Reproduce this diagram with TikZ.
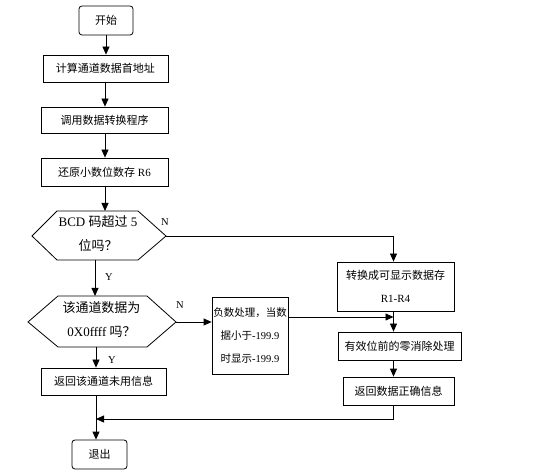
\documentclass[tikz,border=0pt]{standalone}
\usepackage{fontspec}
\setmainfont{Liberation Serif}
\newfontfamily\cjk{Noto Sans CJK SC}
\usetikzlibrary{arrows.meta}
\begin{document}
\begin{tikzpicture}[x=1pt,y=-1pt,
  every path/.style={line width=0.8pt},
  boxst/.style={draw,rectangle,inner sep=0pt,align=center,font=\fontsize{11}{23}\selectfont},
  termst/.style={boxst,rounded corners=3pt},
  hextext/.style={inner sep=0pt,align=center,font=\fontsize{13}{24}\selectfont},
  lbl/.style={inner sep=0pt,font=\fontsize{10.5}{12}\selectfont},
  arr/.style={-{Triangle[width=7pt,length=8pt]}}]
\useasboundingbox (0,0) rectangle (536,473);
% nodes
\node[termst,minimum width=54pt,minimum height=29pt] (start) at (106,20.5) {\cjk 开始};
\node[boxst,minimum width=125pt,minimum height=27pt] (b1) at (105.5,68.5) {\cjk 计算通道数据首地址};
\node[boxst,minimum width=127pt,minimum height=26pt] (b2) at (104.5,120) {\cjk 调用数据转换程序};
\node[boxst,minimum width=127pt,minimum height=28pt] (b3) at (104.5,172) {{\cjk 还原小数位数存} R6};
% hexagon 1
\coordinate (h1l) at (32,236);
\coordinate (h1tl) at (57,211);
\coordinate (h1tr) at (138,211);
\coordinate (h1r) at (166,236);
\coordinate (h1br) at (138,260);
\coordinate (h1bl) at (57,260);
\draw (h1l) -- (h1tl) -- (h1tr) -- (h1r) -- (h1br) -- (h1bl) -- cycle;
\node[hextext] (h1) at (98,233.5) {BCD {\cjk 码超过} 5\\{\cjk 位吗？}};
% hexagon 2
\coordinate (h2l) at (28,322);
\coordinate (h2tl) at (58,296);
\coordinate (h2tr) at (147,296);
\coordinate (h2r) at (176,322);
\coordinate (h2br) at (147,347);
\coordinate (h2bl) at (58,347);
\draw (h2l) -- (h2tl) -- (h2tr) -- (h2r) -- (h2br) -- (h2bl) -- cycle;
\node[hextext] (h2) at (101.5,320) {{\cjk 该通道数据为}\\0X0ffff {\cjk 吗？}};
% right column
\node[boxst,minimum width=117pt,minimum height=49pt] (R) at (395.5,286.5) {{\cjk 转换成可显示数据存}\\R1-R4};
\node[boxst,minimum width=76pt,minimum height=77pt,font=\fontsize{10.5}{23}\selectfont] (neg) at (250,335.5) {{\cjk 负数处理，当数}\\{\cjk 据小于}-199.9\\{\cjk 时显示}-199.9};
\node[boxst,minimum width=123pt,minimum height=28pt] (zero) at (399.5,346) {\cjk 有效位前的零消除处理};
\node[boxst,minimum width=111pt,minimum height=28pt] (ok) at (398.5,391) {\cjk 返回数据正确信息};
\node[boxst,minimum width=125pt,minimum height=27pt] (unused) at (103.5,381.5) {\cjk 返回该通道未用信息};
\node[termst,minimum width=55pt,minimum height=29pt] (exit) at (99.5,454.5) {\cjk 退出};
% labels
\node[lbl] (n1) at (165,222) {N};
\node[lbl] (n2) at (180,305) {N};
\node[lbl] (y1) at (109,277) {Y};
\node[lbl] (y2) at (112,360) {Y};
% helper coordinates
\coordinate (colx) at (393.5,0);
\coordinate (y1a) at (95,260);
\coordinate (y1b) at (95,296);
\coordinate (y2a) at (96,347);
\coordinate (mergeR) at (393.5,419);
\coordinate (mergeL) at (96,419);
% connectors
\draw[arr] (start.south) -- (start.south |- b1.north);
\draw[arr] (b1.south -| 105,0) -- (105,0 |- b2.north);
\draw[arr] (b2.south -| 105,0) -- (105,0 |- b3.north);
\draw[arr] (b3.south -| 105,0) -- (105,0 |- h1tl);
\draw[arr] (y1a) -- (y1b);
\draw[arr] (h1r) -| (colx |- R.north);
\draw[arr] (colx |- R.south) -- (colx |- zero.north);
\draw[arr] (colx |- zero.south) -- (colx |- ok.north);
\draw[arr] (h2r) -- (h2r -| neg.west);
\draw[arr] (neg.east |- 0,317) -- (colx |- 0,317);
\draw[arr] (y2a) -- (y2a |- unused.north);
\draw[arr] (96,0 |- unused.south) -- (96,0 |- exit.north);
\draw[arr] (colx |- ok.south) -- (mergeR) -- (mergeL);
\end{tikzpicture}
\end{document}
